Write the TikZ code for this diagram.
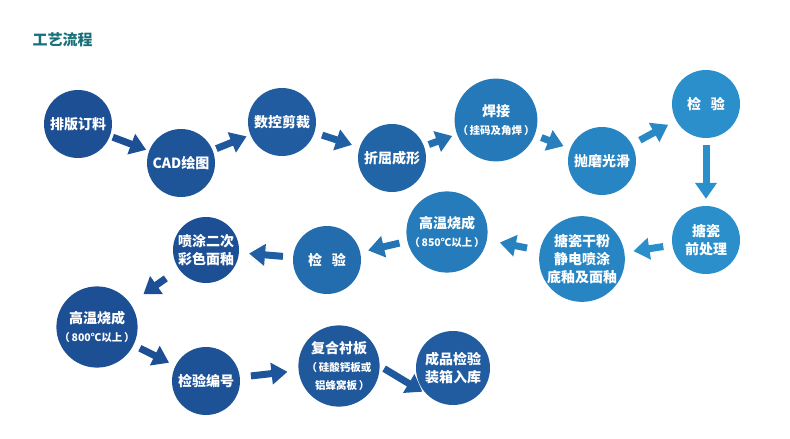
\documentclass[tikz,border=0pt]{standalone}
\usepackage{fontspec}
\newfontfamily\cjk{Noto Sans CJK SC}
\usetikzlibrary{arrows.meta}
\definecolor{deepblue}{HTML}{1D4F94}
\definecolor{skyblue}{HTML}{2A8FCB}
\definecolor{titleteal}{HTML}{17707A}
\tikzset{
  proc/.style={circle, inner sep=0pt, minimum size=#1, text=white, align=center,
    font=\cjk\bfseries\fontsize{14}{18}\selectfont},
  proc/.default=68,
  flow/.style={-{Triangle[length=16,width=21]}, line width=7, shorten <=#1, shorten >=#1},
  flow/.default=4
}
\newcommand{\sub}[1]{{\fontsize{10.5}{14}\selectfont #1}}
\begin{document}
\begin{tikzpicture}[x=1pt, y=-1pt]
  \useasboundingbox (0,0) rectangle (790,439);
  \node[anchor=west, text=titleteal, font=\cjk\bfseries\fontsize{15}{17}\selectfont] (title) at (29,40) {工艺流程};

  % top row
  \node[proc, fill=deepblue] (typeset) at (78,124) {排版订料};
  \node[proc, fill=skyblue!10!deepblue] (cad) at (181,163) {CAD绘图};
  \node[proc, fill=skyblue!20!deepblue] (cnc) at (282,122) {数控剪裁};
  \node[proc, fill=skyblue!35!deepblue] (bend) at (392,158) {折屈成形};
  \node[proc, fill=skyblue!65!deepblue] (weld) at (496,120) {焊接\\\sub{（\,挂码及角焊\,）}};
  \node[proc, fill=skyblue!85!deepblue] (polish) at (602,161) {抛磨光滑};
  \node[proc, fill=skyblue] (check1) at (706,104) {检\hspace{0.7em}验};

  % middle row, right to left
  \node[proc, fill=skyblue] (pretreat) at (706,240) {搪瓷\\前处理};
  \node[proc=84, fill=skyblue!85!deepblue] (spray) at (582,259) {搪瓷干粉\\静电喷涂\\底釉及面釉};
  \node[proc=76, fill=skyblue!70!deepblue] (fire1) at (447,232) {高温烧成\\\sub{（\,850℃以上\,）}};
  \node[proc, fill=skyblue!45!deepblue] (check2) at (327,260) {检\hspace{0.7em}验};
  \node[proc=66, fill=deepblue] (recoat) at (206,250) {喷涂二次\\彩色面釉};

  % bottom row
  \node[proc=74, fill=deepblue] (fire2) at (97,327) {高温烧成\\\sub{（\,800℃以上\,）}};
  \node[proc, fill=skyblue!5!deepblue] (mark) at (206,381) {检验编号};
  \node[proc=74, fill=skyblue!15!deepblue] (lining) at (339,366) {复合衬板\\\sub{（\,硅酸钙板或}\\\sub{\hspace{0.6em}铝蜂窝板\,）}};
  \node[proc=74, fill=skyblue!20!deepblue] (pack) at (453,368) {成品检验\\装箱入库};

  % connectors
  \draw[flow=3, deepblue] (typeset) -- (cad);
  \draw[flow=4, skyblue!15!deepblue] (cad) -- (cnc);
  \draw[flow=8, skyblue!25!deepblue] (cnc) -- (bend);
  \draw[flow=5, skyblue!50!deepblue] (bend) -- (weld);
  \draw[flow=7, skyblue!75!deepblue] (weld) -- (polish);
  \draw[flow=9, skyblue!90!deepblue] (polish) -- (check1);
  \draw[flow=7, skyblue] (check1) -- (pretreat);
  \draw[flow=9, skyblue] (pretreat) -- (spray);
  \draw[flow=13, skyblue!80!deepblue] (spray) -- (fire1);
  \draw[flow=8, skyblue!60!deepblue] (fire1) -- (check2);
  \draw[flow=10, skyblue!25!deepblue] (check2) -- (recoat);
  \draw[flow=16, deepblue] (recoat) -- (fire2);
  \draw[flow=7, deepblue] (fire2) -- (mark);
  \draw[flow=11, skyblue!10!deepblue] (mark) -- (lining);
  \draw[flow=5, skyblue!15!deepblue] (lining.east) -- (pack.south west);
\end{tikzpicture}
\end{document}
